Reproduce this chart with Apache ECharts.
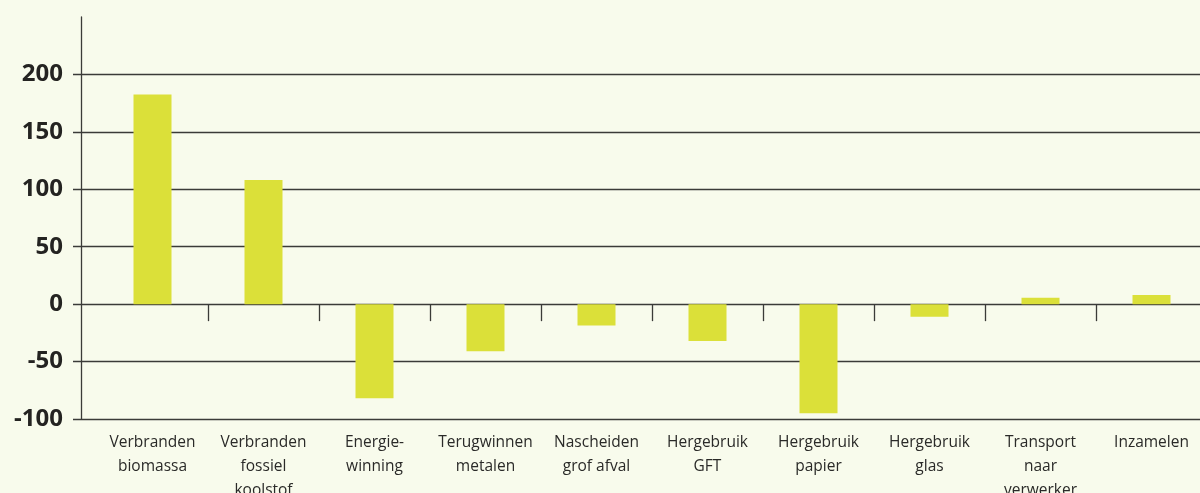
<!DOCTYPE html>
<html>
<head>
<meta charset="utf-8">
<script src="https://cdn.jsdelivr.net/npm/echarts@6/dist/echarts.min.js"></script>
<style>
  html, body { margin: 0; padding: 0; background: #f8fbec; }
  #chart { width: 1200px; height: 493px; }
</style>
</head>
<body>
<div id="chart"></div>
<script>
// categories and values
var categories = [
  'Verbranden\nbiomassa',
  'Verbranden\nfossiel\nkoolstof',
  'Energie-\nwinning',
  'Terugwinnen\nmetalen',
  'Nascheiden\ngrof afval',
  'Hergebruik\nGFT',
  'Hergebruik\npapier',
  'Hergebruik\nglas',
  'Transport\nnaar\nverwerker',
  'Inzamelen'
]
var values = [182.5, 108, -82, -41, -18.5, -32, -95, -11, 5.5, 8]
var yMin = -100
var yMax = 250
var yStep = 50

var myChart = echarts.init(document.getElementById('chart'))
var lineColor = '#3b3b38'

var option = {
  backgroundColor: '#f8fbec',
  animation: false,
  grid: [
    // grid for the y axis and gridlines
    { left: 73, right: 0, top: 17, height: 402, outerBoundsMode: 'none' },
    // grid for the bars
    { left: 97, width: 1110, top: 17, height: 402, outerBoundsMode: 'none' }
  ],
  xAxis: [
    { gridIndex: 0, type: 'value', show: false },
    {
      gridIndex: 1,
      type: 'category',
      data: categories,
      axisLine: { show: false, onZero: true },
      axisTick: {
        show: true,
        length: 17,
        lineStyle: { color: lineColor, width: 1.3 },
        interval: function (index) { return index !== 0 }
      },
      axisLabel: { show: false }
    },
    {
      gridIndex: 1,
      type: 'category',
      position: 'bottom',
      data: categories,
      axisLine: { show: false, onZero: false },
      axisTick: { show: false },
      axisLabel: {
        margin: 12,
        interval: 0,
        color: '#2a2a28',
        fontFamily: 'Open Sans',
        fontSize: 15.5,
        lineHeight: 24
      }
    }
  ],
  yAxis: [
    {
      gridIndex: 0,
      type: 'value',
      min: yMin,
      max: yMax,
      interval: yStep,
      offset: -8,
      axisLine: { show: true, lineStyle: { color: lineColor, width: 1.3 } },
      axisTick: { show: false },
      axisLabel: {
        margin: 18,
        showMaxLabel: false,
        color: '#242321',
        fontFamily: 'Open Sans',
        fontWeight: 'bold',
        fontSize: 24
      },
      splitLine: {
        show: true,
        showMaxLine: false,
        lineStyle: { color: lineColor, width: 1.3 }
      }
    },
    {
      gridIndex: 1,
      type: 'value',
      min: yMin,
      max: yMax,
      interval: yStep,
      show: false
    }
  ],
  series: [
    {
      type: 'bar',
      xAxisIndex: 1,
      yAxisIndex: 1,
      data: values,
      barWidth: 38,
      itemStyle: { color: '#dbe039' }
    }
  ]
}

option && myChart.setOption(option)
</script>
</body>
</html>
